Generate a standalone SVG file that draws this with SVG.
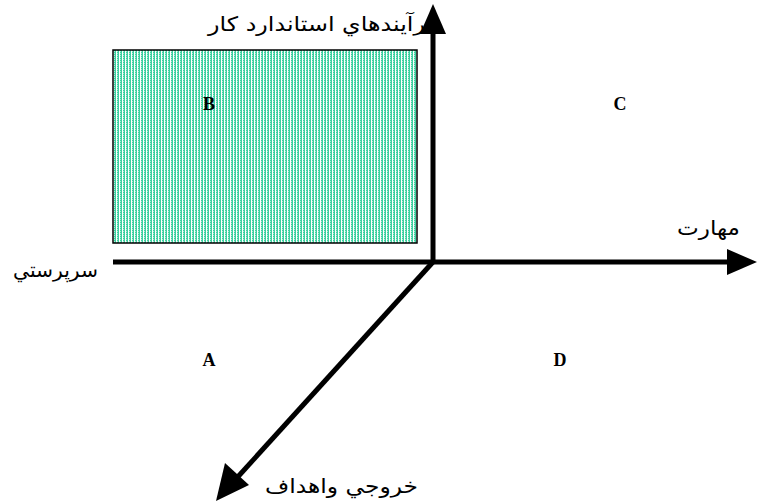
<svg xmlns="http://www.w3.org/2000/svg" width="759" height="504" viewBox="0 0 759 504">
<style>
.lbl{font-family:"Liberation Serif","DejaVu Serif",serif;font-weight:bold;font-size:18px;fill:#000}
.ar{font-family:"DejaVu Sans","Noto Sans",sans-serif;font-size:20px;fill:#000;text-anchor:end}
.axis{stroke:#000;stroke-width:5;fill:none}
</style>
<defs>
<pattern id="hatch" width="3" height="2" patternUnits="userSpaceOnUse">
<rect width="3" height="2" fill="#3ccf9f"/>
<rect x="2" y="0" width="1" height="2" fill="#ffffff"/>
<rect x="0" y="1" width="1" height="1" fill="#a6ecd4"/>
</pattern>
</defs>
<rect width="759" height="504" fill="#fff"/>
<g id="quadrantB">
<rect x="113" y="50" width="304" height="193" fill="url(#hatch)" stroke="#000" stroke-width="1.5"/>
<text class="lbl" x="209" y="110" text-anchor="middle">B</text>
</g>
<g id="quadrantC"><text class="lbl" x="620" y="110" text-anchor="middle">C</text></g>
<g id="quadrantA"><text class="lbl" x="209" y="366" text-anchor="middle">A</text></g>
<g id="quadrantD"><text class="lbl" x="560" y="366" text-anchor="middle">D</text></g>
<g id="labels">
<text class="ar" x="438" y="31" textLength="230" lengthAdjust="spacingAndGlyphs">فرآيندهاي استاندارد كار</text>
<text class="ar" x="98" y="277" textLength="85" lengthAdjust="spacingAndGlyphs">سرپرستي</text>
<text class="ar" x="740" y="235" textLength="63" lengthAdjust="spacingAndGlyphs">مهارت</text>
<text class="ar" x="418" y="493" textLength="153" lengthAdjust="spacingAndGlyphs">خروجي واهداف</text>
</g>
<g id="connectors">
<line class="axis" x1="433" y1="262" x2="433" y2="30"/>
<polygon points="433,4 420,34 446,34" fill="#000"/>
<line class="axis" x1="113" y1="262" x2="730" y2="262"/>
<polygon points="757,262 727,249 727,275" fill="#000"/>
<line class="axis" x1="433" y1="262" x2="235" y2="480"/>
<polygon points="216,501 225,463 249,485" fill="#000"/>
</g>
</svg>
